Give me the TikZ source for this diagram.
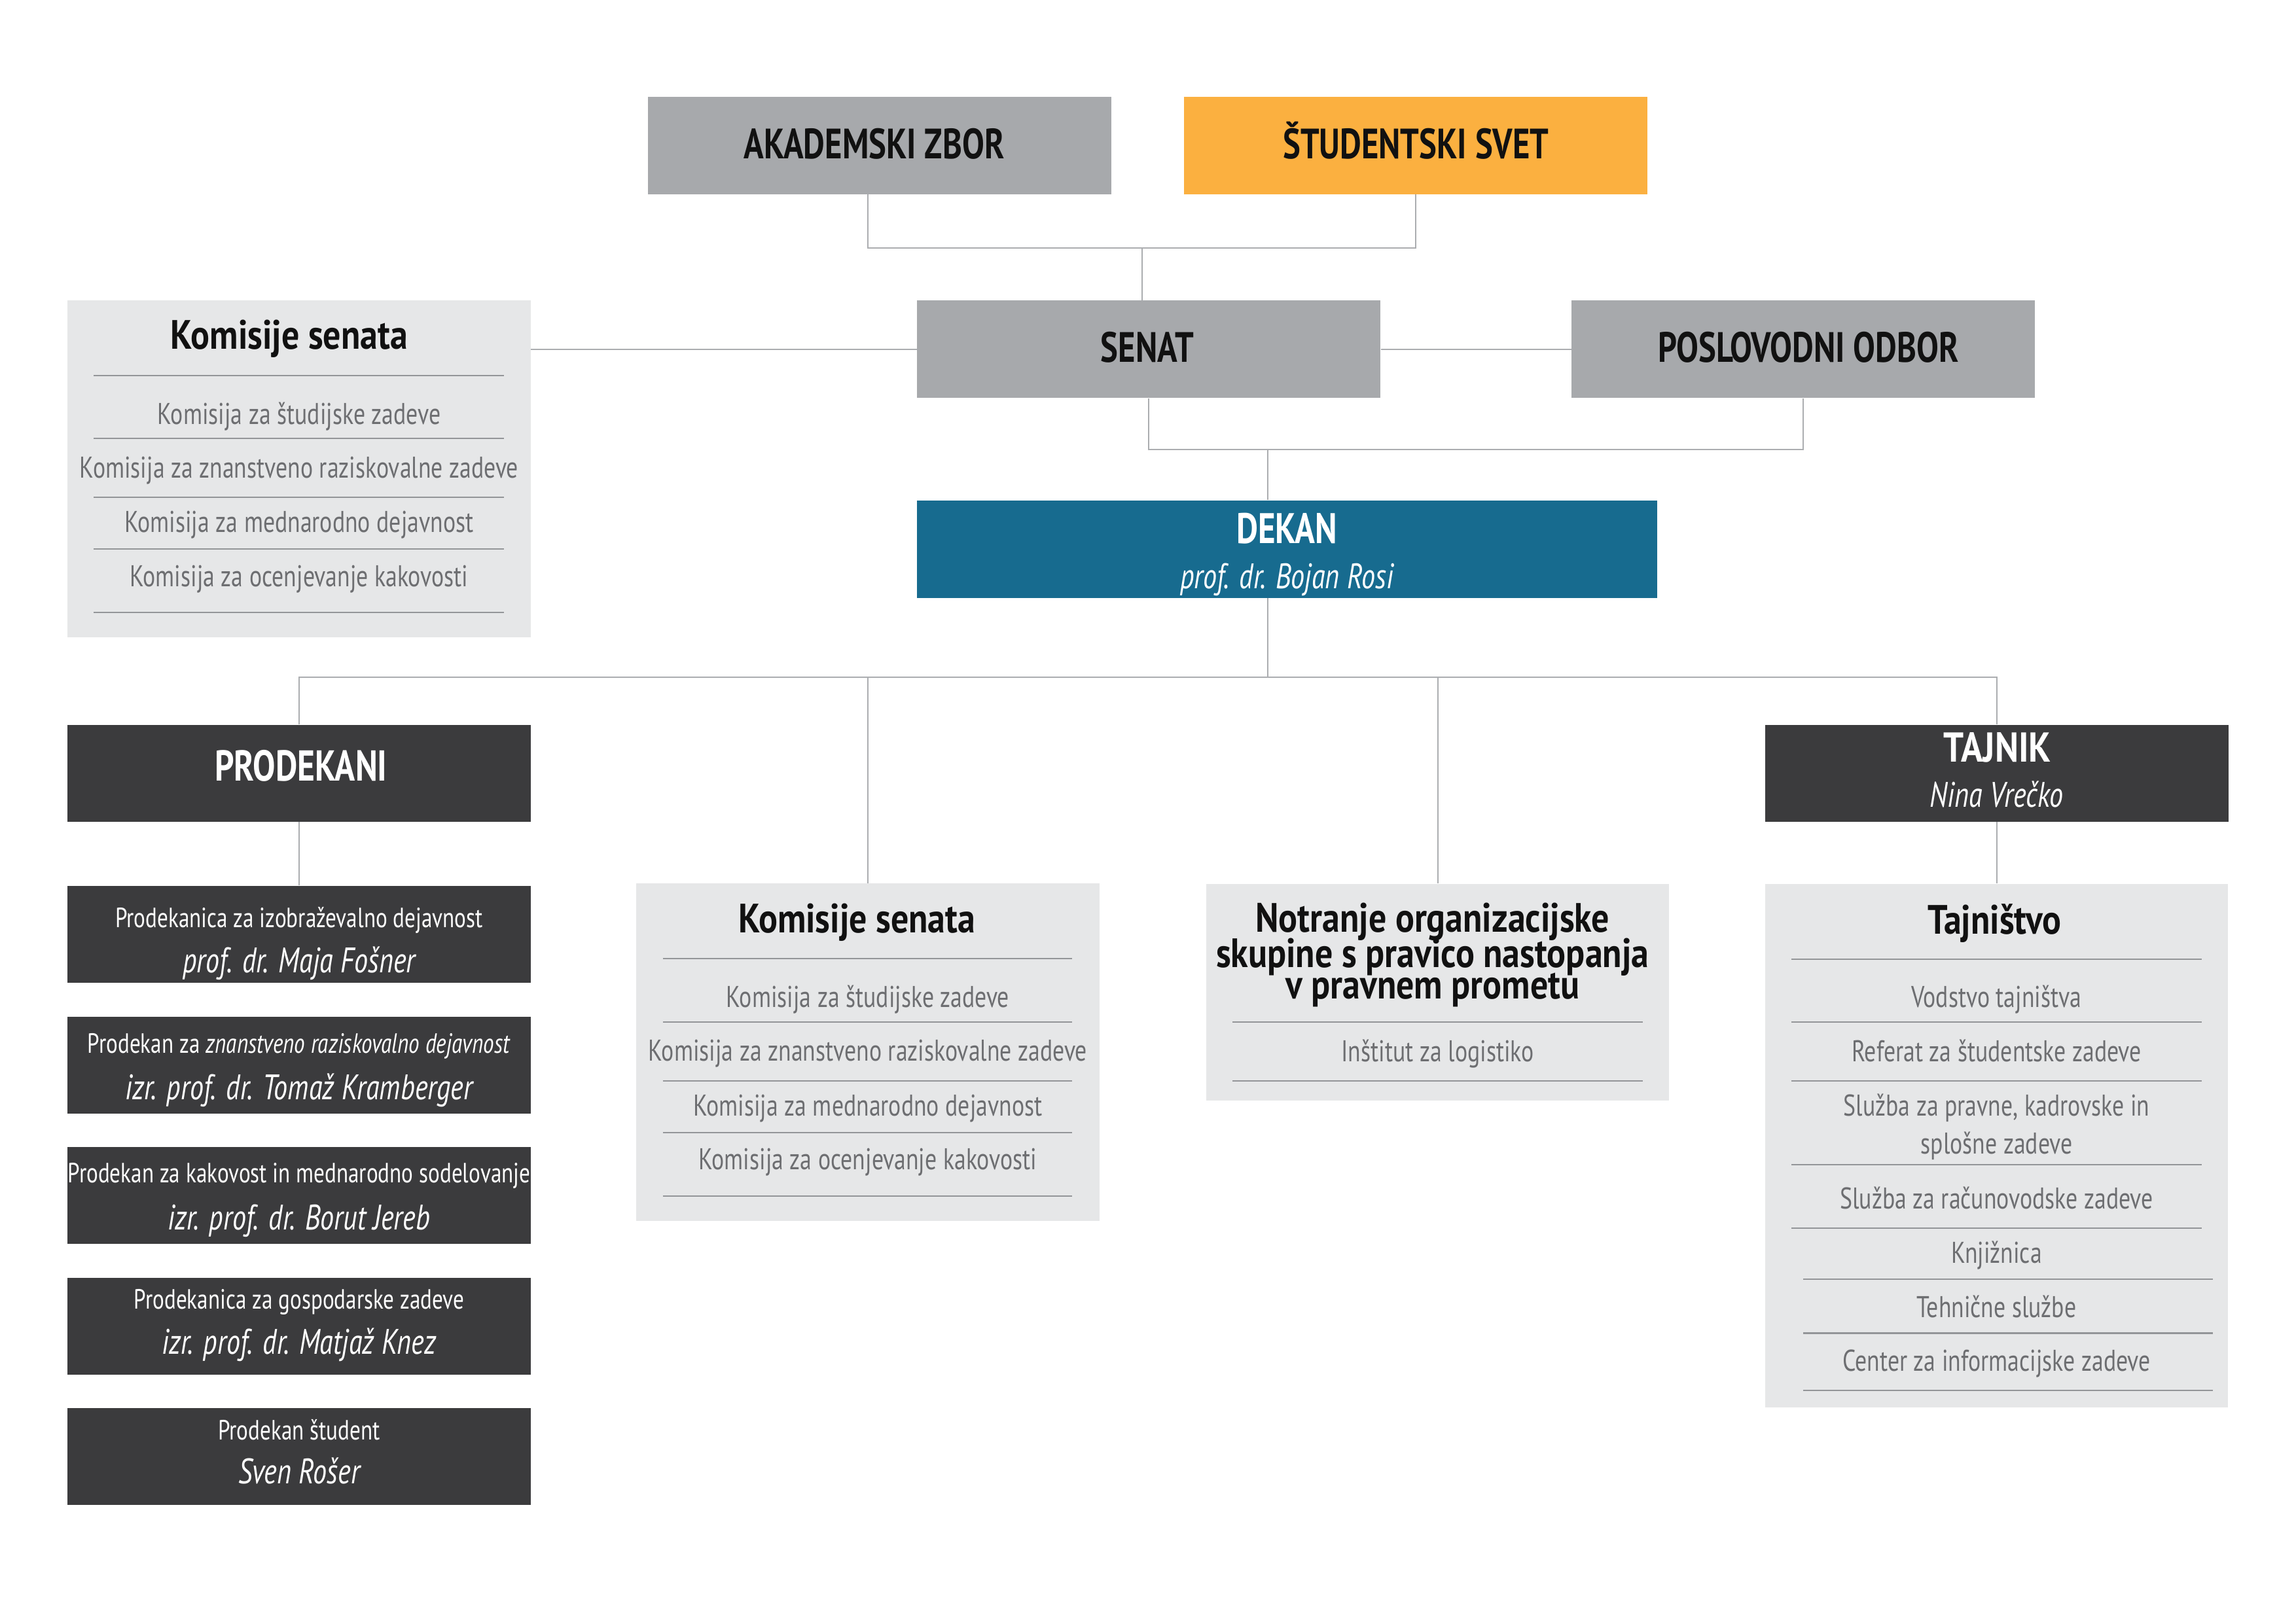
\documentclass[tikz,border=0pt]{standalone}
\usepackage{fontspec}
\setmainfont{PT Sans}[FakeStretch=0.78]
\newfontfamily\titlefont{PT Sans}[FakeStretch=0.86]
\definecolor{cgray}{HTML}{A7A9AC}
\definecolor{corange}{HTML}{FBB040}
\definecolor{cblue}{HTML}{176B8F}
\definecolor{cdark}{HTML}{3B3B3D}
\definecolor{cpanel}{HTML}{E6E7E8}
\definecolor{citem}{HTML}{6D6E71}
\definecolor{csep}{HTML}{939598}
\definecolor{cline}{HTML}{ABADB0}
\definecolor{ctitle}{HTML}{111111}
\newcommand\myfs[1]{\fontsize{#1}{#1}\selectfont}
\begin{document}
\begin{tikzpicture}[x=1pt,y=-1pt,
  box/.style={rectangle, draw=none, inner sep=0, minimum width=316.5pt, minimum height=66.7pt},
  graybox/.style={box, fill=cgray},
  orangebox/.style={box, fill=corange},
  darkbox/.style={box, fill=cdark, minimum height=66.3pt},
  bluebox/.style={box, fill=cblue, minimum width=505.7pt, minimum height=66.6pt},
  panel/.style={rectangle, draw=none, inner sep=0, fill=cpanel, minimum width=316.3pt},
  txt/.style={inner sep=0, anchor=base},
  bigcap/.style={txt, text=ctitle, font=\bfseries\myfs{29}},
  whitecap/.style={txt, text=white, font=\bfseries\myfs{29.2}},
  whiteit/.style={txt, text=white, font=\itshape\myfs{24.2}},
  pdline/.style={txt, text=white, font=\myfs{19}},
  ptitle/.style={txt, text=ctitle, font=\titlefont\bfseries\myfs{28}},
  item/.style={txt, text=citem, font=\myfs{20.5}},
  conn/.style={draw=cline, line width=0.9pt},
  sepline/.style={draw=csep, line width=0.9pt}]

\fill[white] (0,0) rectangle (1568,1109);
\useasboundingbox (0,0) rectangle (1568,1109);

% ---------- boxes ----------
\node[graybox] (az) at (600.9,99.4) {};
\node[orangebox] (ss) at (967,99.4) {};
\node[graybox] (senat) at (784.5,238.5) {};
\node[graybox] (po) at (1231.6,238.5) {};
\node[panel, minimum height=230.4pt] (kom1) at (204.25,320.3) {};
\node[bluebox] (dekan) at (878.95,375.2) {};
\node[darkbox] (prodekani) at (204.25,528.2) {};
\node[darkbox] (tajnik) at (1363.55,528.2) {};
\node[darkbox] (pd1) at (204.25,638.15) {};
\node[darkbox] (pd2) at (204.25,727.55) {};
\node[darkbox] (pd3) at (204.25,816.55) {};
\node[darkbox] (pd4) at (204.25,905.95) {};
\node[darkbox] (pd5) at (204.25,994.95) {};
\node[panel, minimum height=230.7pt] (kom2) at (592.65,718.75) {};
\node[panel, minimum height=148.3pt] (notr) at (981.8,677.85) {};
\node[panel, minimum height=357.8pt] (tajn) at (1363.55,782.6) {};

% ---------- connectors ----------
\coordinate (j1) at (780,169.4);
\draw[conn] ([xshift=-8.2pt]az.south) |- (j1) -| (ss.south);
\draw[conn] (j1) -- (j1 |- senat.north);
\draw[conn] (kom1.east |- senat.west) -- (senat.west);
\draw[conn] (senat.east) -- (po.west);
\coordinate (j2) at (866,306.9);
\draw[conn] (senat.south) |- (j2) -| (po.south);
\draw[conn] (j2) -- (j2 |- dekan.north);
\coordinate (j3) at (866,462.6);
\draw[conn] (j3 |- dekan.south) -- (j3);
\draw[conn] (prodekani.north) |- (j3) -| (tajnik.north);
\draw[conn] (j3 -| kom2.north) -- (kom2.north);
\draw[conn] (j3 -| notr.north) -- (notr.north);
\draw[conn] (prodekani.south) -- (pd1.north);
\draw[conn] (tajnik.south) -- (tajn.north);

% ---------- top texts ----------
\node[bigcap] (taz) at (597,108.6) {AKADEMSKI ZBOR};
\node[bigcap] (tss) at (967,108.6) {ŠTUDENTSKI SVET};
\node[bigcap] (tsenat) at (783.5,247.6) {SENAT};
\node[bigcap] (tpo) at (1235,247.6) {POSLOVODNI ODBOR};
\node[whitecap] (tdekan) at (878.8,371) {DEKAN};
\node[whiteit] (tdekann) at (878.8,402) {prof. dr. Bojan Rosi};
\node[txt, text=white, font=\bfseries\myfs{29.5}] (tprod) at (205.5,533.6) {PRODEKANI};
\node[txt, text=white, font=\titlefont\bfseries\myfs{28.5}] (ttaj) at (1364,520.6) {TAJNIK};
\node[whiteit] (ttajn) at (1363.5,551.3) {Nina Vrečko};

% ---------- prodekani ----------
\node[pdline] (p1a) at (204.25,633.7) {Prodekanica za izobraževalno dejavnost};
\node[whiteit] (p1b) at (204.25,664.5) {prof. dr. Maja Fošner};
\node[pdline] (p2a) at (204.25,719.6) {Prodekan za \textit{znanstveno raziskovalno dejavnost}};
\node[whiteit] (p2b) at (204.25,751.0) {izr. prof. dr. Tomaž Kramberger};
\node[pdline] (p3a) at (204.25,808.1) {Prodekan za kakovost in mednarodno sodelovanje};
\node[whiteit] (p3b) at (204.25,840.1) {izr. prof. dr. Borut Jereb};
\node[pdline] (p4a) at (204.25,894.0) {Prodekanica za gospodarske zadeve};
\node[whiteit] (p4b) at (204.25,925.1) {izr. prof. dr. Matjaž Knez};
\node[pdline] (p5a) at (204.25,983.7) {Prodekan študent};
\node[whiteit] (p5b) at (204.25,1013.7) {Sven Rošer};

% ---------- Komisije senata (top) ----------
\node[ptitle] (k1t) at (197.5,238.3) {Komisije senata};
\foreach \yy in {256.6,299.5,339.7,375.1,418.4}
  \draw[sepline] (64.1,\yy) -- (344.2,\yy);
\node[item] (k1a) at (204.25,289.7) {Komisija za študijske zadeve};
\node[item] (k1b) at (204.25,326.4) {Komisija za znanstveno raziskovalne zadeve};
\node[item] (k1c) at (204.25,363.8) {Komisija za mednarodno dejavnost};
\node[item] (k1d) at (204.25,400.5) {Komisija za ocenjevanje kakovosti};

% ---------- Komisije senata (bottom) ----------
\node[ptitle] (k2t) at (585.2,637.3) {Komisije senata};
\foreach \yy in {654.8,698.0,738.3,773.7,817.0}
  \draw[sepline] (452.6,\yy) -- (732.2,\yy);
\node[item] (k2a) at (592.65,688.0) {Komisija za študijske zadeve};
\node[item] (k2b) at (592.65,724.7) {Komisija za znanstveno raziskovalne zadeve};
\node[item] (k2c) at (592.65,762.1) {Komisija za mednarodno dejavnost};
\node[item] (k2d) at (592.65,798.8) {Komisija za ocenjevanje kakovosti};

% ---------- Notranje ----------
\node[ptitle, align=center, font=\titlefont\bfseries\fontsize{28}{22.2}\selectfont] (ntitle) at (978.3,682.4)
  {Notranje organizacijske\\[-2.8pt]skupine s pravico nastopanja\\[-2.8pt]v pravnem prometu};
\foreach \yy in {698.3,738.3}
  \draw[sepline] (841.6,\yy) -- (1122,\yy);
\node[item] (na) at (981.8,725.0) {Inštitut za logistiko};

% ---------- Tajnistvo ----------
\node[ptitle] (tt) at (1362.1,638.2) {Tajništvo};
\foreach \yy in {655.3,698.3,738.3,795.4,838.8}
  \draw[sepline] (1223.3,\yy) -- (1503.8,\yy);
\foreach \yy in {873.7,910.7,949.6}
  \draw[sepline] (1231.6,\yy) -- (1511.1,\yy);
\node[item] (ta) at (1363.5,687.9) {Vodstvo tajništva};
\node[item] (tb) at (1363.5,725.0) {Referat za študentske zadeve};
\node[item] (tc) at (1363.5,762.1) {Služba za pravne, kadrovske in};
\node[item] (tc2) at (1363.5,788.1) {splošne zadeve};
\node[item] (td) at (1363.5,825.6) {Služba za računovodske zadeve};
\node[item] (te) at (1363.5,862.7) {Knjižnica};
\node[item] (tf) at (1363.5,899.8) {Tehnične službe};
\node[item] (tg) at (1363.5,936.8) {Center za informacijske zadeve};
\end{tikzpicture}
\end{document}
